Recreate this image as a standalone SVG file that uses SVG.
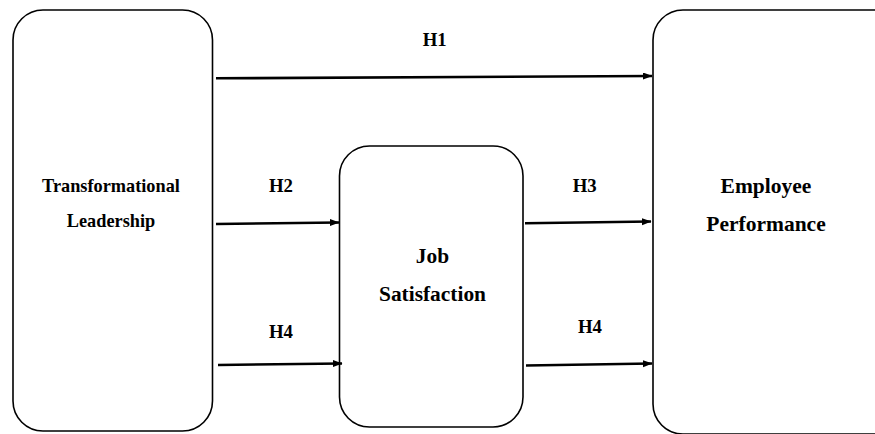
<svg xmlns="http://www.w3.org/2000/svg" width="875" height="434" viewBox="0 0 875 434">
<style>
.box{fill:#fff;stroke:#000;stroke-width:1.6}
.lbl{font-family:"Liberation Serif","Times New Roman",serif;font-weight:bold;fill:#000;text-anchor:middle}
.edge{stroke:#000;stroke-width:2.6;fill:none;marker-end:url(#ah)}
</style>
<defs>
<marker id="ah" markerUnits="userSpaceOnUse" markerWidth="10" markerHeight="8" refX="9" refY="3.5" orient="auto">
<path d="M0,0 L9.5,3.5 L0,7 Z" fill="#000"/>
</marker>
</defs>
<rect width="875" height="434" fill="#fff"/>
<g id="transformational-leadership">
<rect class="box" x="13" y="10" width="199.5" height="421" rx="30" ry="30"/>
<text class="lbl" x="111" y="191.5" font-size="18.3">Transformational</text>
<text class="lbl" x="111" y="226.5" font-size="18.3">Leadership</text>
</g>
<g id="job-satisfaction">
<rect class="box" x="339.5" y="146" width="183.5" height="281" rx="30" ry="30"/>
<text class="lbl" x="432.5" y="263" font-size="21.4">Job</text>
<text class="lbl" x="432.5" y="300.5" font-size="21.4">Satisfaction</text>
</g>
<g id="employee-performance">
<rect class="box" x="653" y="10" width="250" height="424" rx="30" ry="30"/>
<text class="lbl" x="766" y="193" font-size="21.5">Employee</text>
<text class="lbl" x="766" y="230.5" font-size="21.5">Performance</text>
</g>
<g id="connectors">
<line class="edge" x1="216" y1="78.3" x2="652" y2="76"/>
<line class="edge" x1="216" y1="224" x2="339" y2="222.5"/>
<line class="edge" x1="218" y1="365" x2="342" y2="363.5"/>
<line class="edge" x1="525" y1="223.3" x2="651" y2="221.5"/>
<line class="edge" x1="526" y1="365.5" x2="652" y2="363.5"/>
<text class="lbl" x="434.7" y="45.7" font-size="18.8">H1</text>
<text class="lbl" x="281" y="191.7" font-size="18.8">H2</text>
<text class="lbl" x="281" y="337.7" font-size="18.8">H4</text>
<text class="lbl" x="584.7" y="192.3" font-size="18.8">H3</text>
<text class="lbl" x="590" y="333.3" font-size="18.8">H4</text>
</g>
</svg>
